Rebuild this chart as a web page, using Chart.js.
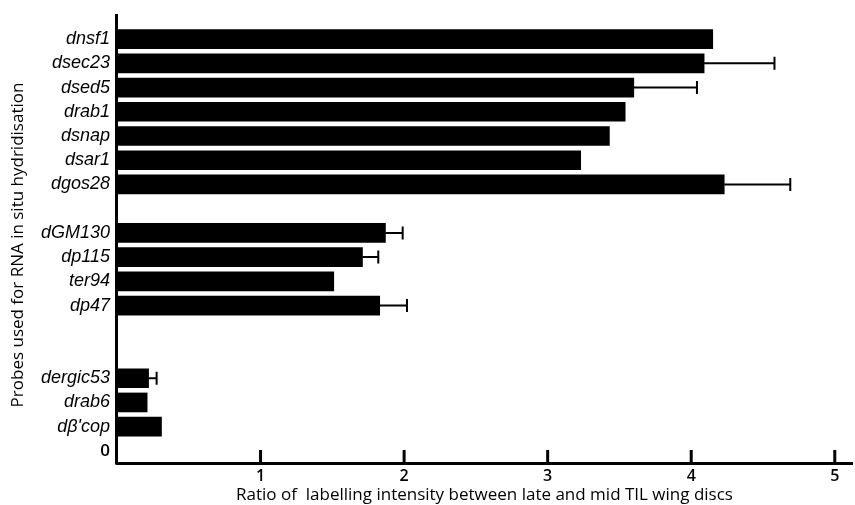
<!DOCTYPE html>
<html>
<head>
<meta charset="utf-8">
<script src="https://cdn.jsdelivr.net/npm/chart.js@4/dist/chart.umd.min.js"></script>
<style>
  body { margin: 0; background: #fff; }
</style>
</head>
<body>
<canvas id="myChart" width="855" height="505"></canvas>
<script>
// probes (empty strings are the gaps between the groups)
const probes = [
  'dnsf1', 'dsec23', 'dsed5', 'drab1', 'dsnap', 'dsar1', 'dgos28',
  '',
  'dGM130', 'dp115', 'ter94', 'dp47',
  '', '',
  'dergic53', 'drab6', "dβ'cop",
  '0'
];
// ratio late / mid
const ratios = [
  4.15, 4.09, 3.60, 3.54, 3.43, 3.23, 4.23,
  null,
  1.87, 1.71, 1.51, 1.83,
  null, null,
  0.22, 0.21, 0.31,
  null
];
// error (upper side only)
const errors = [
  null, 0.49, 0.44, null, null, null, 0.46,
  null,
  0.12, 0.11, null, 0.19,
  null, null,
  0.056, null, null,
  null
];
const xTicks = [1, 2, 3, 4, 5];

// error bars + inward tick marks + tall y axis line
const extras = {
  id: 'extras',
  afterDatasetsDraw(chart) {
    const ctx = chart.ctx;
    const x = chart.scales.x, y = chart.scales.y;
    ctx.save();
    ctx.strokeStyle = '#000';
    ctx.lineWidth = 2;
    errors.forEach((e, i) => {
      if (e == null || ratios[i] == null) return;
      const yc = y.getPixelForValue(i);
      const x0 = x.getPixelForValue(ratios[i]);
      const x1 = x.getPixelForValue(ratios[i] + e);
      ctx.beginPath();
      ctx.moveTo(x0, yc); ctx.lineTo(x1, yc);
      ctx.moveTo(x1, yc - 6.5); ctx.lineTo(x1, yc + 6.5);
      ctx.stroke();
    });
    // tick marks pointing up into the plot
    ctx.lineWidth = 3;
    xTicks.forEach(v => {
      const px = x.getPixelForValue(v);
      ctx.beginPath();
      ctx.moveTo(px, chart.chartArea.bottom);
      ctx.lineTo(px, chart.chartArea.bottom - 13);
      ctx.stroke();
    });
    // y axis line, runs above the first bar
    ctx.lineWidth = 3;
    ctx.beginPath();
    ctx.moveTo(chart.chartArea.left - 0.5, 14);
    ctx.lineTo(chart.chartArea.left - 0.5, chart.chartArea.bottom + 1.5);
    ctx.stroke();
    ctx.restore();
  }
};

const data = {
  labels: probes,
  datasets: [{
    data: ratios,
    backgroundColor: '#000',
    borderWidth: 0,
    barThickness: 19
  }]
};

const config = {
  type: 'bar',
  data,
  options: {
    indexAxis: 'y',
    responsive: false,
    animation: false,
    layout: { padding: { top: 27, right: 3, left: 0, bottom: 0 } },
    plugins: {
      legend: { display: false },
      tooltip: { enabled: false }
    },
    scales: {
      x: {
        type: 'linear',
        min: 0,
        max: 5.12,
        afterBuildTicks: s => { s.ticks = xTicks.map(v => ({ value: v })); },
        afterFit: s => { s.height = 42; },
        grid: { display: false, drawTicks: false },
        border: { display: true, color: '#000', width: 3 },
        ticks: {
          color: '#000',
          padding: 4,
          font: { family: 'Open Sans', size: 16, weight: '600' }
        },
        title: {
          display: true,
          text: 'Ratio of  labelling intensity between late and mid TIL wing discs',
          color: '#000',
          padding: { top: 0, bottom: 0 },
          font: { family: 'Open Sans', size: 17, weight: '500' }
        }
      },
      y: {
        afterFit: s => { s.width = 117; },
        grid: { display: false, drawTicks: false },
        border: { display: false },
        ticks: {
          color: '#000',
          padding: 7,
          autoSkip: false,
          font: ctx => ctx.index === probes.length - 1
            ? { family: 'Open Sans', size: 17, weight: '600' }
            : { family: 'Liberation Sans', size: 18, style: 'italic' }
        },
        title: {
          display: true,
          text: 'Probes used for RNA in situ hydridisation',
          color: '#000',
          padding: { top: 8, bottom: 0 },
          font: { family: 'Open Sans', size: 17, weight: '500' }
        }
      }
    }
  },
  plugins: [extras]
};

var myChart = new Chart(document.getElementById('myChart'), config);
</script>
</body>
</html>
